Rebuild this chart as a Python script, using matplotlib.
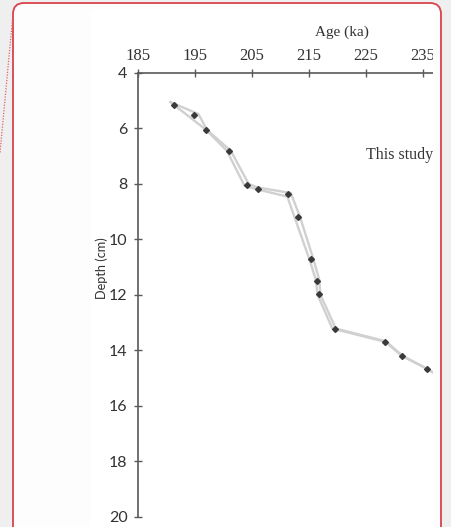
import matplotlib
matplotlib.use("Agg")
import matplotlib.pyplot as plt
from matplotlib.patches import FancyBboxPatch, Rectangle
from matplotlib.lines import Line2D
from matplotlib.transforms import IdentityTransform, Bbox

# ---- data ----
point_age = [191.4, 194.9, 197.0, 201.0, 204.1, 206.0, 211.3, 213.1, 215.3, 216.4, 216.8, 219.5, 228.4, 231.3, 235.7]
point_depth = [5.16, 5.52, 6.06, 6.81, 8.04, 8.17, 8.37, 9.19, 10.70, 11.52, 11.96, 13.24, 13.69, 14.21, 14.67]

left_age = [190.7, 197.0, 200.6, 203.7, 206.0, 211.2, 215.1, 216.2, 216.5, 219.1, 228.4, 231.3, 235.7, 238.2]
left_depth = [5.05, 6.06, 6.81, 8.07, 8.20, 8.46, 10.74, 11.46, 12.00, 13.22, 13.70, 14.21, 14.67, 14.99]

right_age = [190.7, 195.6, 197.1, 201.3, 204.4, 206.0, 211.8, 213.4, 215.7, 216.8, 217.0, 219.7, 228.5, 231.4, 235.8, 238.2]
right_depth = [5.05, 5.48, 6.05, 6.81, 8.00, 8.13, 8.33, 9.18, 10.67, 11.46, 12.00, 13.22, 13.68, 14.20, 14.68, 14.99]

x_ticks = [185, 195, 205, 215, 225, 235, 245]
y_ticks = [4, 6, 8, 10, 12, 14, 16, 18, 20]

W, H = 451, 527
fig = plt.figure(figsize=(W / 100, H / 100), dpi=100, facecolor="#efefef")
ident = IdentityTransform()
interior = "#fdfdfd"
clip_x = 432.5

# frame interior
fig.add_artist(FancyBboxPatch((13, -30), 428, H - 3 + 30, boxstyle="round,pad=0,rounding_size=11",
                              transform=ident, facecolor=interior, edgecolor="none", zorder=-3))
# chart image background
fig.add_artist(Rectangle((91, -5), clip_x - 91, H - 5, transform=ident,
                         facecolor="white", edgecolor="none", zorder=-2))

# axes geometry (px)
ax_l, ax_r, ax_t, ax_b = 138, 480, 73, 516.5
ax = fig.add_axes([ax_l / W, (H - ax_b) / H, (ax_r - ax_l) / W, (ax_b - ax_t) / H])
ax.set_facecolor("none")
ppk = (426 - 138) / 50.0
ax.set_xlim(185, 185 + (ax_r - ax_l) / ppk)
ax.set_ylim(20, 4)

axis_col = "#595959"
for s in ["right", "bottom"]:
    ax.spines[s].set_visible(False)
for s in ["top", "left"]:
    ax.spines[s].set_color(axis_col)
    ax.spines[s].set_linewidth(1.2)

ax.xaxis.tick_top()
ax.set_xticks(x_ticks)
ax.set_xticklabels([str(v) for v in x_ticks], family="Liberation Serif", fontsize=12, color="#333333")
ax.set_yticks(y_ticks)
ax.set_yticklabels([str(v) for v in y_ticks], family="Lato", fontsize=11.5, color="#333333")
ax.tick_params(axis="both", direction="inout", length=6, width=1.0, color=axis_col, pad=4.5)
ax.tick_params(axis="x", pad=3.5)

# envelope lines
ax.plot(left_age, left_depth, color="#d0d0d0", lw=1.7, solid_joinstyle="round", zorder=2, clip_on=False)
ax.plot(right_age, right_depth, color="#d0d0d0", lw=1.7, solid_joinstyle="round", zorder=2, clip_on=False)
ax.plot(point_age, point_depth, linestyle="none", marker="D", markersize=3.0,
        color="#3a3a3a", zorder=3, clip_on=False)

# labels
fig.text(342 / W, (H - 32) / H, "Age (ka)", family="Liberation Serif", fontsize=11,
         color="#333333", ha="center", va="center")
fig.text(433 / W, (H - 155) / H, "This study", family="Liberation Serif", fontsize=11.5,
         color="#333333", ha="right", va="center")
fig.text(102 / W, (H - 268) / H, "Depth (cm)", family="Lato", fontsize=9.2,
         color="#333333", ha="center", va="center", rotation=90)

# cover beyond clipped chart region
fig.add_artist(Rectangle((clip_x, -5), 40, H + 10, transform=ident,
                         facecolor="#efefef", edgecolor="none", zorder=5))
cover_fill = FancyBboxPatch((13, -30), 428, H - 3 + 30, boxstyle="round,pad=0,rounding_size=11",
                            transform=ident, facecolor=interior, edgecolor="none", zorder=6)
fig.add_artist(cover_fill)
cover_fill.set_clip_box(Bbox([[clip_x, -5], [460, H + 5]]))

# frame outline
fig.add_artist(FancyBboxPatch((13, -30), 428, H - 3 + 30, boxstyle="round,pad=0,rounding_size=11",
                              transform=ident, facecolor="none", edgecolor="#d9434b", linewidth=1.3, zorder=7))

# dotted decorative line
fig.add_artist(Line2D([12.7, 0.0], [H - 17, H - 153], transform=ident, color="#e0606a",
                      linestyle=(0, (1, 1.2)), linewidth=0.9, zorder=7))

fig.savefig("out.png", dpi=100, facecolor=fig.get_facecolor())
